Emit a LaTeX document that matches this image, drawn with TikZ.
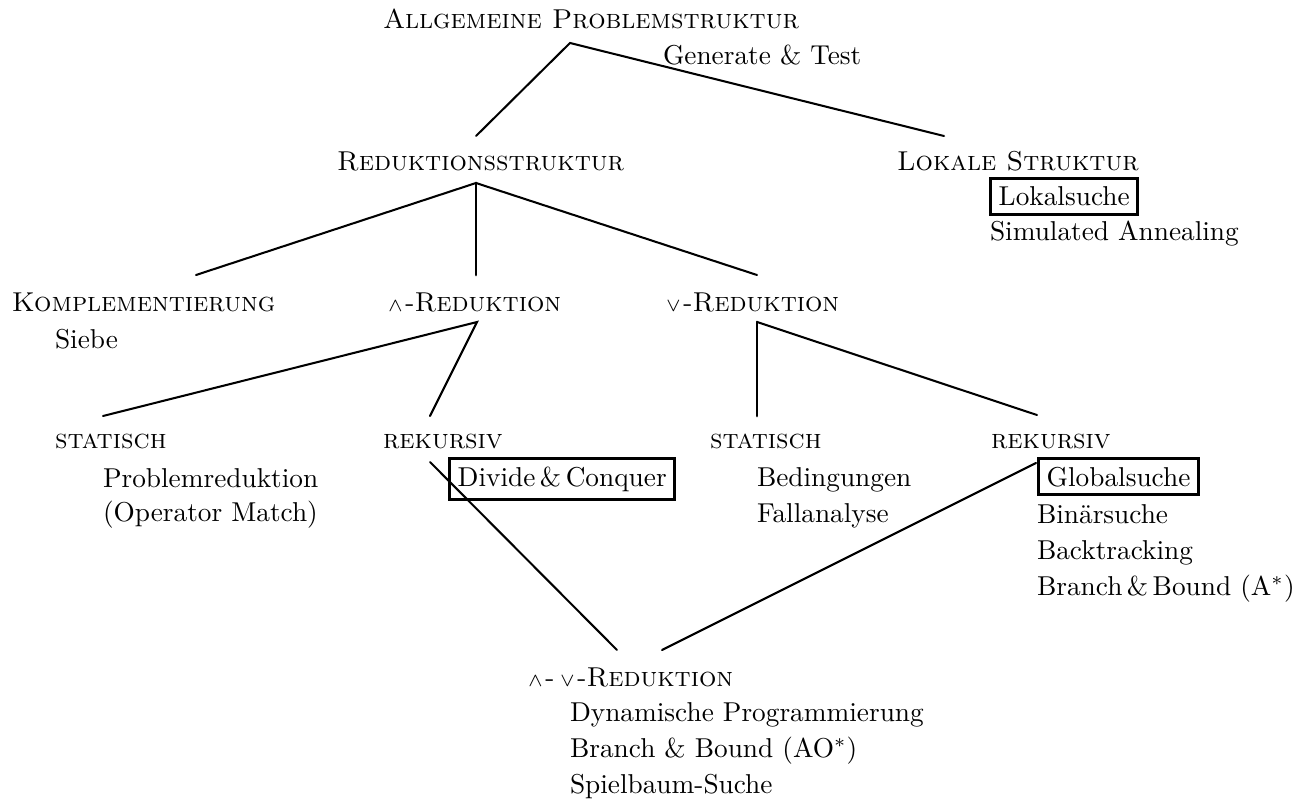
\documentclass[tikz,border=0pt]{standalone}
\usepackage{amsmath,amssymb}
\usepackage{tikz}
\usetikzlibrary{positioning}

\tikzset{
  txt/.style   = {anchor=base west, inner sep=0pt, outer sep=0pt},
  boxed/.style = {anchor=base west, draw, line width=1.1pt, inner sep=3pt},
  branch/.style= {line width=0.75pt, line cap=round}
}
\newcommand{\andop}{$\scriptstyle\wedge$\kern1pt}
\newcommand{\orop}{$\scriptstyle\vee$\kern1pt}

\begin{document}
\begin{tikzpicture}[x=0.3663pt, y=-0.3663pt]

  \useasboundingbox (0,0) rectangle (1308,801);

  %top
  \node[txt] (allg) at (383,29) {\textsc{Allgemeine Problemstruktur}};
  \node[txt] (gt)   at (663,65) {Generate \& Test};

  %second level
  \node[txt] (red)  at (337,171) {\textsc{Reduktionsstruktur}};
  \node[txt] (lok)  at (897,171) {\textsc{Lokale Struktur}};
  \node[boxed] (lsu) at (989,206) {Lokalsuche};
  \node[txt] (sim)  at (990,241) {Simulated Annealing};

  %third level
  \node[txt] (kompl) at (12,311)  {\textsc{Komplementierung}};
  \node[txt] (siebe) at (55,348)  {Siebe};
  \node[txt] (andr)  at (388,311) {\andop-\textsc{Reduktion}};
  \node[txt] (orr)   at (666,311) {\orop-\textsc{Reduktion}};

  %fourth level
  \node[txt] (stat1) at (55,448)   {\textsc{statisch}};
  \node[txt] (prob)  at (103,487)  {Problemreduktion};
  \node[txt] (opm)   at (103,521)  {(Operator Match)};
  \node[txt] (rek1)  at (383,448)  {\textsc{rekursiv}};
  \node[boxed] (dc)  at (448,486)  {Divide\,\&\,Conquer};
  \node[txt] (stat2) at (710,448)  {\textsc{statisch}};
  \node[txt] (bed)   at (757,486)  {Bedingungen};
  \node[txt] (fall)  at (757,522)  {Fallanalyse};
  \node[txt] (rek2)  at (991,448)  {\textsc{rekursiv}};
  \node[boxed] (glob) at (1037,486) {Globalsuche};
  \node[txt] (bin)   at (1037,523) {Bin\"arsuche};
  \node[txt] (back)  at (1037,559) {Backtracking};
  \node[txt] (bb)    at (1037,595) {Branch\,\&\,Bound (A$^*$)};

  %bottom
  \node[txt] (andor) at (528,686) {\andop-\kern2pt\orop-\textsc{Reduktion}};
  \node[txt] (dyn)   at (570,721) {Dynamische Programmierung};
  \node[txt] (bbao)  at (570,757) {Branch \& Bound (AO$^*$)};
  \node[txt] (spiel) at (570,793) {Spielbaum-Suche};

  %line ends
  \coordinate (allg-b) at (570,43);
  \coordinate (red-t)  at (476,136);
  \coordinate (lok-t)  at (944,136);
  \coordinate (red-b)  at (476,183);
  \coordinate (kompl-t) at (196,275);
  \coordinate (andr-t) at (476,275);
  \coordinate (orr-t)  at (757,275);
  \coordinate (andr-b) at (477,322);
  \coordinate (orr-b)  at (757,322);
  \coordinate (stat1-t) at (103,416);
  \coordinate (rek1-t) at (430,416);
  \coordinate (stat2-t) at (757,416);
  \coordinate (rek2-t) at (1037,415);
  \coordinate (rek1-b) at (430,462);
  \coordinate (rek2-b) at (1036,463);
  \coordinate (andor-l) at (617,650);
  \coordinate (andor-r) at (662,650);

  %lines
  \draw[branch] (red-t) -- (allg-b) -- (lok-t);
  \draw[branch] (kompl-t) -- (red-b) -- (orr-t);
  \draw[branch, line width=1pt] (red-b) -- (andr-t);
  \draw[branch] (stat1-t) -- (andr-b) -- (rek1-t);
  \draw[branch, line width=1pt] (stat2-t) -- (orr-b);
  \draw[branch] (orr-b) -- (rek2-t);
  \draw[branch] (rek1-b) -- (andor-l);
  \draw[branch] (rek2-b) -- (andor-r);
\end{tikzpicture}
\end{document}
